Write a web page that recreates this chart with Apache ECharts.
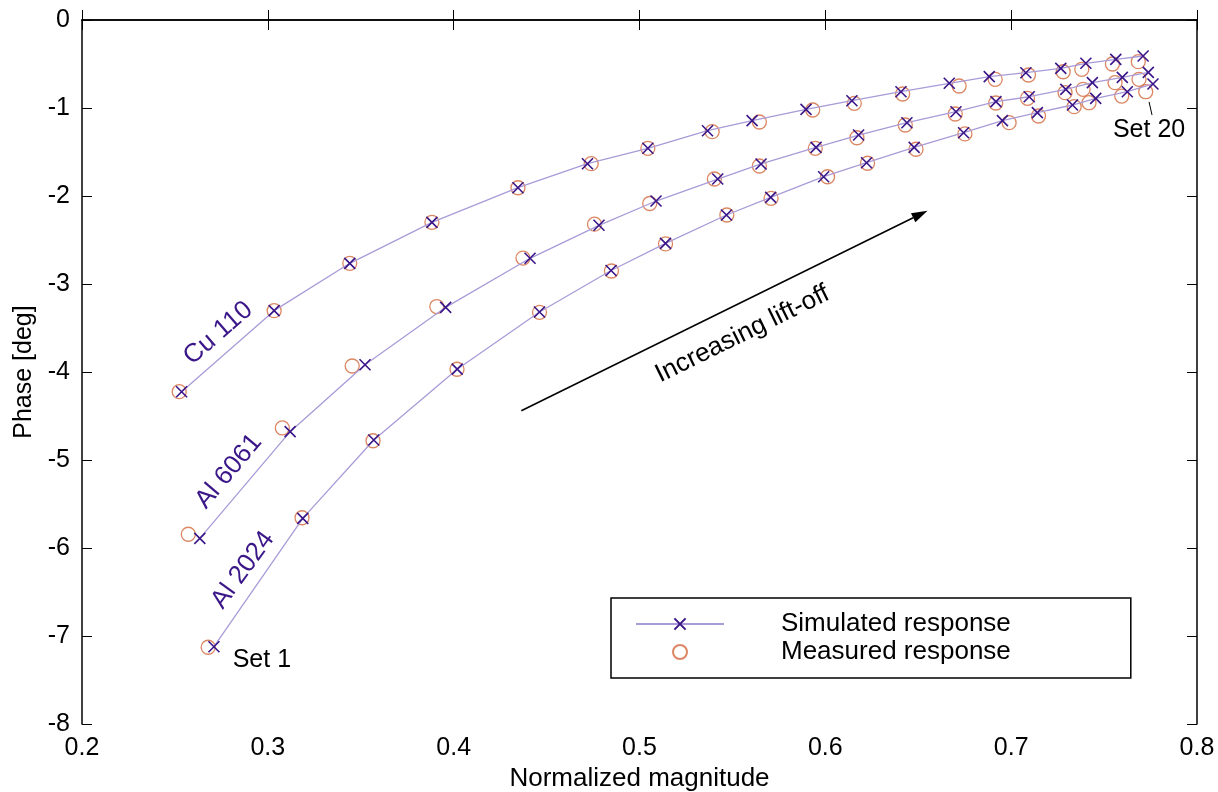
<!DOCTYPE html>
<html><head><meta charset="utf-8">
<script src="https://cdn.jsdelivr.net/npm/echarts@6/dist/echarts.min.js"></script>
<style>html,body{margin:0;padding:0;background:#fff}#c{width:1218px;height:792px}</style>
</head><body><div id="c"></div>
<script>
// ---- data ----
const xTicks = [0.2, 0.3, 0.4, 0.5, 0.6, 0.7, 0.8];
const yTicks = [-8, -7, -6, -5, -4, -3, -2, -1, 0];

const cuSimX = [0.2536,0.3034,0.3441,0.3883,0.4346,0.4720,0.5045,0.5366,0.5606,0.5896,0.6143,0.6407,0.6667,0.6882,0.7079,0.7267,0.7402,0.7563,0.7710];
const cuSimY = [-4.224,-3.303,-2.765,-2.299,-1.906,-1.633,-1.458,-1.258,-1.144,-1.015,-0.917,-0.815,-0.719,-0.644,-0.599,-0.549,-0.492,-0.447,-0.409];
const cuMeaX = [0.2523,0.3034,0.3441,0.3883,0.4346,0.4740,0.5045,0.5391,0.5645,0.5932,0.6156,0.6416,0.6720,0.6914,0.7093,0.7280,0.7380,0.7545,0.7684];
const cuMeaY = [-4.224,-3.303,-2.765,-2.299,-1.906,-1.633,-1.458,-1.269,-1.159,-1.023,-0.947,-0.841,-0.750,-0.674,-0.625,-0.588,-0.560,-0.500,-0.474];

const al6SimX = [0.2634,0.3120,0.3523,0.3957,0.4411,0.4782,0.5089,0.5421,0.5654,0.5950,0.6179,0.6439,0.6703,0.6918,0.7097,0.7294,0.7437,0.7598,0.7738];
const al6SimY = [-5.890,-4.678,-3.917,-3.265,-2.708,-2.333,-2.057,-1.807,-1.636,-1.447,-1.307,-1.167,-1.042,-0.928,-0.872,-0.788,-0.712,-0.652,-0.595];
const al6MeaX = [0.2572,0.3078,0.3454,0.3909,0.4373,0.4758,0.5055,0.5403,0.5645,0.5946,0.6170,0.6430,0.6699,0.6917,0.7088,0.7290,0.7387,0.7559,0.7688];
const al6MeaY = [-5.844,-4.636,-3.932,-3.256,-2.705,-2.320,-2.085,-1.807,-1.659,-1.458,-1.338,-1.193,-1.068,-0.943,-0.890,-0.826,-0.788,-0.712,-0.674];

const al2SimX = [0.2710,0.3188,0.3570,0.4019,0.4462,0.4847,0.5140,0.5468,0.5706,0.5991,0.6222,0.6478,0.6744,0.6953,0.7141,0.7330,0.7455,0.7625,0.7763];
const al2SimY = [-7.122,-5.663,-4.773,-3.968,-3.318,-2.847,-2.538,-2.216,-2.015,-1.781,-1.622,-1.447,-1.281,-1.144,-1.053,-0.966,-0.890,-0.815,-0.727];
const al2MeaX = [0.2679,0.3184,0.3566,0.4018,0.4462,0.4849,0.5140,0.5470,0.5708,0.6012,0.6227,0.6488,0.6751,0.6989,0.7147,0.7339,0.7419,0.7595,0.7724];
const al2MeaY = [-7.128,-5.656,-4.781,-3.969,-3.322,-2.852,-2.545,-2.216,-2.026,-1.781,-1.628,-1.469,-1.295,-1.167,-1.091,-0.985,-0.940,-0.864,-0.815];

const seriesNames = ['Simulated response', 'Measured response'];
const materialLabels = ['Cu 110', 'Al 6061', 'Al 2024'];
// annotation anchors in data coordinates
const labelPos = [[0.2733, -3.56], [0.2790, -5.13], [0.2866, -6.25]];
const labelRot = [41, 50, 54];
const arrowFrom = [0.4364, -4.44];
const arrowTo = [0.655, -2.167];
const arrowText = 'Increasing lift-off';
const arrowTextPos = [0.5554, -3.57];
const set1Text = 'Set 1', set1Pos = [0.2968, -7.27];
const set20Text = 'Set 20', set20Pos = [0.7742, -1.25];
const set20Line = [[0.7742, -0.93], [0.7758, -1.08]];

// ---- styles ----
const FONT = 'Liberation Sans, Arial, Helvetica, sans-serif';
const LINE_C = '#a99bd8';
const X_C = '#3a1688';
const O_C = '#d2693c';
const LABEL_C = '#3a1688';
const X_PATH = 'path://M0 0L10 10M10 0L0 10';

const zip = (a, b) => a.map((v, i) => [v, b[i]]);

function simSeries(xs, ys) {
  return {
    type: 'line', name: seriesNames[0], data: zip(xs, ys),
    xAxisIndex: 0, yAxisIndex: 0,
    symbol: X_PATH, symbolSize: 11, showAllSymbol: true,
    lineStyle: { color: LINE_C, width: 1.3 },
    itemStyle: { color: X_C, borderColor: X_C, borderWidth: 1.6 },
    emphasis: { disabled: true }, z: 3, animation: false
  };
}
function meaSeries(xs, ys) {
  return {
    type: 'scatter', name: seriesNames[1], data: zip(xs, ys),
    xAxisIndex: 0, yAxisIndex: 0,
    symbol: 'circle', symbolSize: 14,
    itemStyle: { color: 'rgba(0,0,0,0)', borderColor: O_C, borderWidth: 1.3 },
    emphasis: { disabled: true }, z: 2, animation: false
  };
}

const chart = echarts.init(document.getElementById('c'), null, { renderer: 'canvas' });
const axisCommon = {
  type: 'value',
  axisLine: { show: true, lineStyle: { color: '#000', width: 1.5 } },
  axisTick: { show: true, inside: true, length: 10, lineStyle: { color: '#000', width: 1 } },
  splitLine: { show: false }
};
chart.setOption({
  animation: false,
  backgroundColor: '#fff',
  textStyle: { fontFamily: FONT },
  grid: { left: 82, right: 21, top: 20, bottom: 68, containLabel: false, outerBoundsMode: 'none' },
  xAxis: [
    Object.assign({}, axisCommon, {
      position: 'bottom', min: xTicks[0], max: xTicks[xTicks.length - 1], interval: 0.1,
      axisLabel: { color: '#000', fontSize: 25, fontFamily: FONT, margin: 12, formatter: v => v.toFixed(1) },
      name: 'Normalized magnitude', nameLocation: 'middle', nameGap: 42,
      nameTextStyle: { color: '#000', fontSize: 26, fontFamily: FONT }
    }),
    Object.assign({}, axisCommon, {
      position: 'top', min: xTicks[0], max: xTicks[xTicks.length - 1], interval: 0.1,
      axisLabel: { show: false }
    })
  ],
  yAxis: [
    Object.assign({}, axisCommon, {
      position: 'left', min: yTicks[0], max: yTicks[yTicks.length - 1], interval: 1,
      axisLabel: { color: '#000', fontSize: 25, fontFamily: FONT, margin: 12 },
      name: 'Phase [deg]', nameLocation: 'middle', nameGap: 43,
      nameTextStyle: { color: '#000', fontSize: 25, fontFamily: FONT }
    }),
    Object.assign({}, axisCommon, {
      position: 'right', min: yTicks[0], max: yTicks[yTicks.length - 1], interval: 1,
      axisLabel: { show: false }
    })
  ],
  legend: {
    data: seriesNames,
    orient: 'vertical', left: 611, top: 598,
    itemWidth: 88, itemHeight: 14, itemGap: 2,
    padding: [13, 120, 13, 24],
    borderColor: '#000', borderWidth: 1.5, borderRadius: 0,
    selectedMode: false,
    textStyle: { color: '#000', fontSize: 26, fontFamily: FONT, padding: [0, 0, 0, 52] }
  },
  series: [
    simSeries(cuSimX, cuSimY), meaSeries(cuMeaX, cuMeaY),
    simSeries(al6SimX, al6SimY), meaSeries(al6MeaX, al6MeaY),
    simSeries(al2SimX, al2SimY), meaSeries(al2MeaX, al2MeaY)
  ]
});

// ---- annotations placed through the chart's own coordinate system ----
const px = p => chart.convertToPixel({ gridIndex: 0 }, p);
const gfx = [];
materialLabels.forEach((t, i) => {
  const p = px(labelPos[i]);
  gfx.push({ type: 'text', x: p[0], y: p[1], rotation: labelRot[i] * Math.PI / 180,
    style: { text: t, fill: LABEL_C, font: '26px ' + FONT, align: 'center', verticalAlign: 'middle' } });
});
const a0 = px(arrowFrom), a1 = px(arrowTo);
const ang = Math.atan2(a1[1] - a0[1], a1[0] - a0[0]);
const hl = 16, hw = 5;
const bx = a1[0] - hl * Math.cos(ang), by = a1[1] - hl * Math.sin(ang);
gfx.push({ type: 'line', shape: { x1: a0[0], y1: a0[1], x2: bx, y2: by }, style: { stroke: '#000', lineWidth: 1.5 } });
gfx.push({ type: 'polygon', shape: { points: [
  [a1[0], a1[1]],
  [bx + hw * Math.sin(ang), by - hw * Math.cos(ang)],
  [bx - hw * Math.sin(ang), by + hw * Math.cos(ang)]
] }, style: { fill: '#000' } });
const at = px(arrowTextPos);
gfx.push({ type: 'text', x: at[0], y: at[1], rotation: -ang,
  style: { text: arrowText, fill: '#000', font: '26px ' + FONT, align: 'center', verticalAlign: 'middle' } });
const s1 = px(set1Pos);
gfx.push({ type: 'text', x: s1[0], y: s1[1], style: { text: set1Text, fill: '#000', font: '25px ' + FONT, align: 'center', verticalAlign: 'middle' } });
const s20 = px(set20Pos);
gfx.push({ type: 'text', x: s20[0], y: s20[1], style: { text: set20Text, fill: '#000', font: '25px ' + FONT, align: 'center', verticalAlign: 'middle' } });
const l0 = px(set20Line[0]), l1 = px(set20Line[1]);
gfx.push({ type: 'line', shape: { x1: l0[0], y1: l0[1], x2: l1[0], y2: l1[1] }, style: { stroke: '#000', lineWidth: 1 } });
chart.setOption({ graphic: { elements: gfx } });
</script>
</body></html>
